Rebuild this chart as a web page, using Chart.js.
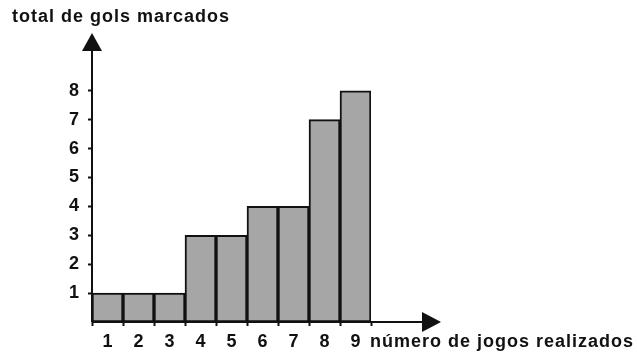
<!DOCTYPE html>
<html>
<head>
<meta charset="utf-8">
<script src="https://cdn.jsdelivr.net/npm/chart.js@4/dist/chart.umd.min.js"></script>
<style>
  body { margin: 0; background: #fff; }
  canvas { display: block; }
</style>
</head>
<body>
<canvas id="golsChart" width="637" height="354"></canvas>
<script>
const categories = ['1', '2', '3', '4', '5', '6', '7', '8', '9']
const goals = [1, 1, 1, 3, 3, 4, 4, 7, 8]
const yTicks = [1, 2, 3, 4, 5, 6, 7, 8]
const yTitle = 'total de gols marcados'
const xTitle = 'número de jogos realizados'

const ink = '#111'
const labelFont = { family: 'Liberation Sans, Arial, sans-serif', size: 18, weight: 'bold' }

// axis lines with arrows + the two axis titles
const axesPlugin = {
  id: 'axesArrows',
  afterDatasetsDraw(chart) {
    const { ctx, chartArea: a, scales } = chart
    const x0 = a.left
    const y0 = scales.y.getPixelForValue(0)
    const xTip = a.right + 70
    ctx.save()
    ctx.strokeStyle = ink
    ctx.fillStyle = ink
    ctx.lineWidth = 2
    ctx.beginPath()
    ctx.moveTo(x0, y0)
    ctx.lineTo(x0, a.top + 16)
    ctx.moveTo(x0, y0)
    ctx.lineTo(xTip - 17, y0)
    ctx.stroke()
    // y arrow
    ctx.beginPath()
    ctx.moveTo(x0, a.top)
    ctx.lineTo(x0 - 10, a.top + 18)
    ctx.lineTo(x0 + 10, a.top + 18)
    ctx.closePath()
    ctx.fill()
    // x arrow
    ctx.beginPath()
    ctx.moveTo(xTip, y0)
    ctx.lineTo(xTip - 19, y0 - 10)
    ctx.lineTo(xTip - 19, y0 + 10)
    ctx.closePath()
    ctx.fill()
    // titles
    ctx.font = 'bold 18px "Liberation Sans", Arial, sans-serif'
    ctx.letterSpacing = '1px'
    ctx.textAlign = 'left'
    ctx.textBaseline = 'middle'
    ctx.fillText(yTitle, 12, 17)
    ctx.fillText(xTitle, 370, 342)
    ctx.restore()
  }
}

let ctxEl = document.getElementById('golsChart').getContext('2d')
let chart = new Chart(ctxEl, {
  type: 'bar',
  data: {
    labels: categories,
    datasets: [
      {
        data: goals,
        backgroundColor: '#a6a6a6',
        borderColor: ink,
        borderWidth: 2,
        borderSkipped: false,
        barPercentage: 1,
        categoryPercentage: 1,
      },
    ],
  },
  options: {
    responsive: false,
    animation: false,
    layout: { padding: { left: 0, top: 33, right: 266, bottom: 0 } },
    plugins: {
      legend: { display: false },
      tooltip: { enabled: false },
    },
    scales: {
      x: {
        grid: { display: true, offset: true, drawOnChartArea: false, tickLength: 4, tickWidth: 2, color: ink },
        border: { display: false },
        ticks: { font: labelFont, color: ink, padding: 5, maxRotation: 0 },
        afterFit: (s) => { s.height = 32 },
      },
      y: {
        min: 0,
        max: 10,
        afterBuildTicks: (s) => { s.ticks = yTicks.map(v => ({ value: v })) },
        grid: { drawOnChartArea: false, tickLength: 4, tickWidth: 2, color: ink },
        border: { display: false },
        ticks: { font: labelFont, color: ink, padding: 9 },
        afterFit: (s) => { s.width = 92 },
      },
    },
  },
  plugins: [axesPlugin],
})
</script>
</body>
</html>
